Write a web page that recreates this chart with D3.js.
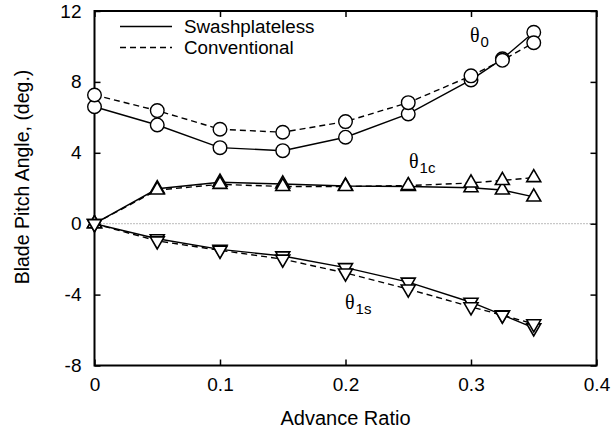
<!DOCTYPE html>
<html>
<head>
<meta charset="utf-8">
<script src="https://cdn.jsdelivr.net/npm/d3@7"></script>
<style>
  html, body { margin: 0; padding: 0; background: #fff; }
  svg { display: block; }
  text { font-family: "Liberation Sans", Arial, Helvetica, sans-serif; fill: #000; }
</style>
</head>
<body>
<svg id="chart" width="615" height="435"></svg>
<script>
// Advance ratio stations
const advanceRatio = [0, 0.05, 0.1, 0.15, 0.2, 0.25, 0.3, 0.325, 0.35];

// Collective pitch, theta_0 (deg)
const theta0Swashplateless = [6.6, 5.57, 4.29, 4.12, 4.88, 6.19, 8.11, 9.3, 10.8];
const theta0Conventional   = [7.26, 6.38, 5.33, 5.16, 5.76, 6.83, 8.34, 9.22, 10.21];

// Lateral cyclic, theta_1c (deg)
const theta1cSwashplateless = [0, 1.97, 2.34, 2.24, 2.13, 2.1, 2.03, 1.9, 1.51];
const theta1cConventional   = [0, 1.9, 2.22, 2.1, 2.1, 2.15, 2.3, 2.44, 2.6];

// Longitudinal cyclic, theta_1s (deg)
const theta1sSwashplateless = [0, -0.85, -1.45, -1.82, -2.48, -3.3, -4.43, -5.14, -5.88];
const theta1sConventional   = [0, -0.97, -1.5, -2.0, -2.78, -3.69, -4.69, -5.16, -5.65];

const xTicks = [0, 0.1, 0.2, 0.3, 0.4];
const xTickLabels = ["0", "0.1", "0.2", "0.3", "0.4"];
const yTicks = [-8, -4, 0, 4, 8, 12];
const yTickLabels = ["-8", "-4", "0", "4", "8", "12"];
const legendLabels = ["Swashplateless", "Conventional"];

const svg = d3.select("#chart");
const plot = { left: 94.5, right: 596.5, top: 11, bottom: 365.5 };

const x = d3.scaleLinear().domain([0, 0.4]).range([plot.left, plot.right]);
const y = d3.scaleLinear().domain([-8, 12]).range([plot.bottom, plot.top]);

const tickFont = 19;

// zero reference line
svg.append("line")
  .attr("x1", x(0)).attr("x2", x(0.4))
  .attr("y1", y(0)).attr("y2", y(0))
  .attr("stroke", "#777").attr("stroke-width", 1)
  .attr("stroke-dasharray", "1,2");

// axes with inward ticks on all four sides
const tickLen = 6;
const axisBottom = svg.append("g").attr("transform", `translate(0,${plot.bottom})`)
  .call(d3.axisBottom(x).tickValues(xTicks).tickSize(-tickLen).tickPadding(12)
    .tickFormat((d, i) => xTickLabels[i]));
const axisTop = svg.append("g").attr("transform", `translate(0,${plot.top})`)
  .call(d3.axisTop(x).tickValues(xTicks).tickSize(-tickLen).tickFormat(""));
const axisLeft = svg.append("g").attr("transform", `translate(${plot.left},0)`)
  .call(d3.axisLeft(y).tickValues(yTicks).tickSize(-tickLen).tickPadding(13)
    .tickFormat((d, i) => yTickLabels[i]));
const axisRight = svg.append("g").attr("transform", `translate(${plot.right},0)`)
  .call(d3.axisRight(y).tickValues(yTicks).tickSize(-tickLen).tickFormat(""));

[axisBottom, axisTop, axisLeft, axisRight].forEach(g => {
  g.select(".domain").remove();
  g.selectAll(".tick line").attr("stroke", "#000").attr("stroke-width", 1.5);
  g.selectAll("text").attr("font-size", tickFont)
    .attr("font-family", '"Liberation Sans", Arial, sans-serif').attr("fill", "#000");
});

// frame
svg.append("rect")
  .attr("x", plot.left).attr("y", plot.top)
  .attr("width", plot.right - plot.left).attr("height", plot.bottom - plot.top)
  .attr("fill", "none").attr("stroke", "#000").attr("stroke-width", 2);

// data series
const line = d3.line().x(d => x(d[0])).y(d => y(d[1]));
const zip = vals => advanceRatio.map((a, i) => [a, vals[i]]);

const triSym = d3.symbol().type(d3.symbolTriangle).size(85);

function drawSeries(vals, dashed, marker) {
  const pts = zip(vals);
  svg.append("path")
    .datum(pts)
    .attr("d", line)
    .attr("fill", "none")
    .attr("stroke", "#000")
    .attr("stroke-width", 1.4)
    .attr("stroke-dasharray", dashed ? "6,4" : null);
  const g = svg.append("g");
  if (marker === "circle") {
    g.selectAll("circle").data(pts).join("circle")
      .attr("cx", d => x(d[0])).attr("cy", d => y(d[1]))
      .attr("r", 6.8)
      .attr("fill", "#fff").attr("stroke", "#000").attr("stroke-width", 1.4);
  } else {
    g.selectAll("path").data(pts).join("path")
      .attr("d", triSym)
      .attr("transform", d => `translate(${x(d[0])},${y(d[1])})` + (marker === "down" ? " rotate(180)" : ""))
      .attr("fill", "#fff").attr("stroke", "#000").attr("stroke-width", 1.6)
      .attr("stroke-linejoin", "miter");
  }
}

drawSeries(theta0Swashplateless, false, "circle");
drawSeries(theta0Conventional, true, "circle");
drawSeries(theta1cSwashplateless, false, "up");
drawSeries(theta1cConventional, true, "up");
drawSeries(theta1sSwashplateless, false, "down");
drawSeries(theta1sConventional, true, "down");

// series annotations
function thetaLabel(px, py, sub) {
  const t = svg.append("text").attr("x", px).attr("y", py);
  t.append("tspan").attr("font-family", '"Liberation Serif", "Times New Roman", serif')
    .attr("font-size", 20).text("θ");
  t.append("tspan").attr("font-size", 15).attr("dy", 5).attr("dx", 1).text(sub);
}
thetaLabel(470, 42, "0");
thetaLabel(409, 168, "1c");
thetaLabel(345, 309, "1s");

// legend
const legend = svg.append("g");
legendLabels.forEach((lab, i) => {
  const ly = 26.5 + i * 21;
  legend.append("line")
    .attr("x1", 120).attr("x2", 172).attr("y1", ly).attr("y2", ly)
    .attr("stroke", "#000").attr("stroke-width", 1.4)
    .attr("stroke-dasharray", i === 1 ? "6,4" : null);
  legend.append("text")
    .attr("x", 184).attr("y", ly + 6.5)
    .attr("font-size", 18.8).text(lab);
});

// axis titles
svg.append("text")
  .attr("x", (plot.left + plot.right) / 2).attr("y", 425)
  .attr("text-anchor", "middle").attr("font-size", 20)
  .text("Advance Ratio");
svg.append("text")
  .attr("transform", `translate(29,177) rotate(-90)`)
  .attr("text-anchor", "middle").attr("font-size", 19.5)
  .text("Blade Pitch Angle, (deg.)");
</script>
</body>
</html>
